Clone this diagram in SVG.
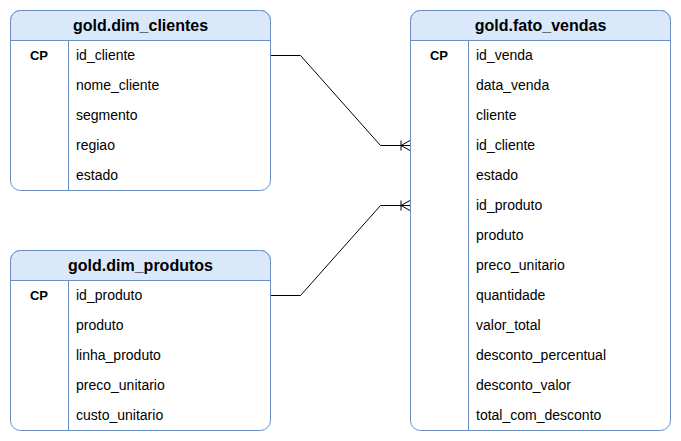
<svg xmlns="http://www.w3.org/2000/svg" width="681" height="441" viewBox="0 0 681 441">
<style>
.box{fill:#ffffff;stroke:#6c8ebf;stroke-width:1}
.hdr{fill:#dae8fc;stroke:#6c8ebf;stroke-width:1}
.ln{stroke:#6c8ebf;stroke-width:1;fill:none}
.title{font-family:"Liberation Sans",Arial,sans-serif;font-size:16px;font-weight:bold;fill:#000;text-anchor:middle}
.key{font-family:"Liberation Sans",Arial,sans-serif;font-size:13px;font-weight:bold;fill:#000;text-anchor:middle}
.fld{font-family:"Liberation Sans",Arial,sans-serif;font-size:14px;fill:#000}
.edge{stroke:#000;stroke-width:1;fill:none}
</style>
<defs>
<marker id="many" markerUnits="userSpaceOnUse" viewBox="0 0 10 12" refX="10" refY="6" markerWidth="10" markerHeight="12" orient="auto">
<path d="M1,6 L10,1 M1,6 L10,11 M1,1 L1,11" fill="none" stroke="#000" stroke-width="1"/>
</marker>
</defs>
<g id="dim_clientes" transform="translate(10.5,10.5)">
<rect class="box" x="0" y="0" width="260" height="180" rx="10" ry="10"/>
<path class="hdr" d="M0,30 V10 A10,10 0 0 1 10,0 H250 A10,10 0 0 1 260,10 V30 Z"/>
<line class="ln" x1="58" y1="30" x2="58" y2="180"/>
<text class="title" x="130" y="20.5">gold.dim_clientes</text>
<text class="key" x="28.5" y="49.5">CP</text>
<text class="fld" x="65.5" y="49.5">id_cliente</text>
<text class="fld" x="65.5" y="79.5">nome_cliente</text>
<text class="fld" x="65.5" y="109.5">segmento</text>
<text class="fld" x="65.5" y="139.5">regiao</text>
<text class="fld" x="65.5" y="169.5">estado</text>
</g>
<g id="dim_produtos" transform="translate(10.5,250.5)">
<rect class="box" x="0" y="0" width="260" height="180" rx="10" ry="10"/>
<path class="hdr" d="M0,30 V10 A10,10 0 0 1 10,0 H250 A10,10 0 0 1 260,10 V30 Z"/>
<line class="ln" x1="58" y1="30" x2="58" y2="180"/>
<text class="title" x="130" y="20.5">gold.dim_produtos</text>
<text class="key" x="28.5" y="49.5">CP</text>
<text class="fld" x="65.5" y="49.5">id_produto</text>
<text class="fld" x="65.5" y="79.5">produto</text>
<text class="fld" x="65.5" y="109.5">linha_produto</text>
<text class="fld" x="65.5" y="139.5">preco_unitario</text>
<text class="fld" x="65.5" y="169.5">custo_unitario</text>
</g>
<g id="fato_vendas" transform="translate(410.5,10.5)">
<rect class="box" x="0" y="0" width="260" height="420" rx="10" ry="10"/>
<path class="hdr" d="M0,30 V10 A10,10 0 0 1 10,0 H250 A10,10 0 0 1 260,10 V30 Z"/>
<line class="ln" x1="58" y1="30" x2="58" y2="420"/>
<text class="title" x="130" y="20.5">gold.fato_vendas</text>
<text class="key" x="28.5" y="49.5">CP</text>
<text class="fld" x="65.5" y="49.5">id_venda</text>
<text class="fld" x="65.5" y="79.5">data_venda</text>
<text class="fld" x="65.5" y="109.5">cliente</text>
<text class="fld" x="65.5" y="139.5">id_cliente</text>
<text class="fld" x="65.5" y="169.5">estado</text>
<text class="fld" x="65.5" y="199.5">id_produto</text>
<text class="fld" x="65.5" y="229.5">produto</text>
<text class="fld" x="65.5" y="259.5">preco_unitario</text>
<text class="fld" x="65.5" y="289.5">quantidade</text>
<text class="fld" x="65.5" y="319.5">valor_total</text>
<text class="fld" x="65.5" y="349.5">desconto_percentual</text>
<text class="fld" x="65.5" y="379.5">desconto_valor</text>
<text class="fld" x="65.5" y="409.5">total_com_desconto</text>
</g>
<g id="connectors">
<path class="edge" d="M271,55.5 H300.5 L380.5,145.5 H410" marker-end="url(#many)"/>
<path class="edge" d="M271,295.5 H300.5 L380.5,205.5 H410" marker-end="url(#many)"/>
</g>
</svg>
